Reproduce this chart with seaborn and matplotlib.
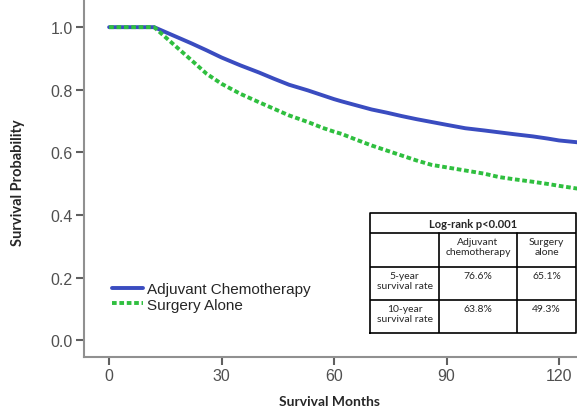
import matplotlib
matplotlib.use("Agg")
import matplotlib.pyplot as plt
import seaborn as sns
import pandas as pd

# Kaplan-Meier curves
months = [0, 12, 17, 22, 26, 30, 35, 40, 44, 48, 53, 57, 60, 62, 66, 70, 74, 78,
          82, 86, 90, 95, 100, 104, 108, 113, 117, 120, 125]
chemo = [1.0, 1.0, 0.974, 0.948, 0.926, 0.903, 0.878, 0.855, 0.835, 0.816, 0.798,
         0.782, 0.770, 0.763, 0.750, 0.737, 0.727, 0.716, 0.706, 0.697, 0.688,
         0.677, 0.670, 0.664, 0.658, 0.651, 0.644, 0.638, 0.632]
surgery = [1.0, 1.0, 0.947, 0.894, 0.851, 0.819, 0.787, 0.760, 0.739, 0.718, 0.697,
           0.678, 0.666, 0.659, 0.640, 0.622, 0.606, 0.590, 0.574, 0.560, 0.552,
           0.542, 0.532, 0.521, 0.514, 0.506, 0.499, 0.493, 0.484]

groups = ["Adjuvant Chemotherapy", "Surgery Alone"]
colors = ["#3a4cc0", "#2fbf3f"]

# table contents
table_title = "Log-rank p<0.001"
table_cols = ["Adjuvant\nchemotherapy", "Surgery\nalone"]
table_rows = ["5-year\nsurvival rate", "10-year\nsurvival rate"]
table_vals = [["76.6%", "65.1%"], ["63.8%", "49.3%"]]

df = pd.DataFrame({
    "month": months + months,
    "surv": chemo + surgery,
    "group": [groups[0]] * len(months) + [groups[1]] * len(months),
})

sns.set_style("white")
plt.rcParams["font.family"] = ["Liberation Sans", "DejaVu Sans"]

fig = plt.figure(figsize=(5.77, 4.10), dpi=100)
ax = fig.add_axes([84 / 577, 52 / 410, 493 / 577, 358 / 410])

sns.lineplot(data=df[df.group == groups[0]], x="month", y="surv", color=colors[0],
             linewidth=2.8, ax=ax, label=groups[0])
sns.lineplot(data=df[df.group == groups[1]], x="month", y="surv", color=colors[1],
             linewidth=2.8, ax=ax, label=groups[1], dashes=False)
ax.lines[1].set_dashes([1.2, 0.7])

ax.set_xlim(-6.7, 124.8)
ax.set_ylim(-0.054, 1.09)
ax.set_xticks([0, 30, 60, 90, 120])
ax.set_yticks([0.0, 0.2, 0.4, 0.6, 0.8, 1.0])
ax.set_yticklabels(["0.0", "0.2", "0.4", "0.6", "0.8", "1.0"])
ax.tick_params(axis="both", direction="out", length=6, width=1.5, color="#606060",
               labelcolor="#505050", labelsize=11.5, left=True, bottom=True, pad=2)
for s in ["top", "right"]:
    ax.spines[s].set_visible(False)
for s in ["left", "bottom"]:
    ax.spines[s].set_color("#909090")
    ax.spines[s].set_linewidth(1.5)

ax.set_xlabel("")
ax.set_ylabel("")
fig.text(330 / 577, 1 - 402 / 410, "Survival Months", ha="center", va="center",
         fontsize=10, fontweight="bold", family="Lato")
fig.text(18 / 577, 1 - 183 / 410, "Survival Probability", ha="center", va="center",
         rotation=90, fontsize=10.5, fontweight="bold", family="Lato")

ax.legend(loc="upper left", bbox_to_anchor=(112 / 577, 1 - 283 / 410),
          bbox_transform=fig.transFigure, frameon=False, fontsize=11,
          handlelength=2.0, handletextpad=0.3, labelspacing=0.1,
          borderpad=0, borderaxespad=0)

# inset table
tx = fig.add_axes([370 / 577, 1 - 334 / 410, 206 / 577, 120 / 410])
tx.set_xlim(0, 1)
tx.set_ylim(0, 1)
tx.axis("off")
xs = [0, 0.335, 0.714, 1]
ys = [1, 0.833, 0.55, 0.275, 0]
lw = 1.2
tx.plot([0, 1, 1, 0, 0], [0, 0, 1, 1, 0], color="black", lw=lw, clip_on=False)
for y in ys[1:-1]:
    tx.plot([0, 1], [y, y], color="black", lw=lw)
for x in xs[1:-1]:
    tx.plot([x, x], [0, ys[1]], color="black", lw=lw)

tfont = "Lato"
tx.text(0.5, (ys[0] + ys[1]) / 2, table_title, ha="center", va="center",
        fontsize=8, fontweight="bold", family=tfont)
for j, c in enumerate(table_cols):
    tx.text((xs[j + 1] + xs[j + 2]) / 2, ys[1] - 0.03, c, ha="center", va="top",
            fontsize=7.5, family=tfont, linespacing=1.15)
for i, r in enumerate(table_rows):
    tx.text((xs[0] + xs[1]) / 2, ys[i + 2] - 0.03, r, ha="center", va="top",
            fontsize=7.5, family=tfont, linespacing=1.15)
    for j, v in enumerate(table_vals[i]):
        tx.text((xs[j + 1] + xs[j + 2]) / 2, ys[i + 2] - 0.03, v, ha="center",
                va="top", fontsize=7.5, family=tfont)

fig.savefig("out.png", dpi=100)
